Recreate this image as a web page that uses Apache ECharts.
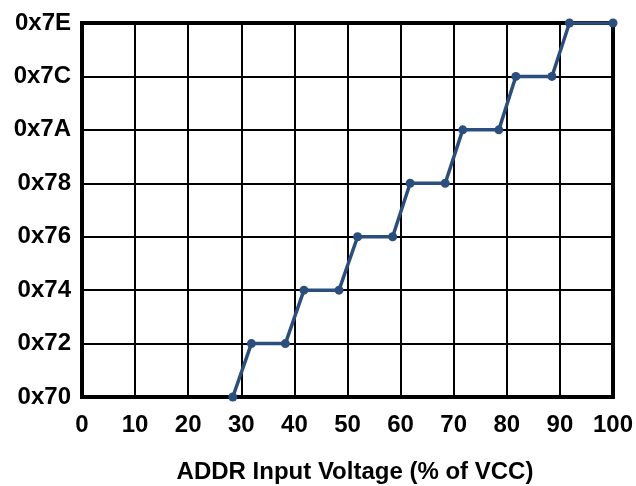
<!DOCTYPE html>
<html>
<head>
<meta charset="utf-8">
<script src="https://cdn.jsdelivr.net/npm/echarts@6/dist/echarts.min.js"></script>
<style>
  html, body { margin: 0; padding: 0; background: #fff; }
  #chart { width: 636px; height: 486px; }
</style>
</head>
<body>
<div id="chart"></div>
<script>
// ADDR input voltage (% of VCC) vs. address code
var voltage = [28.4, 31.9, 38.3, 41.8, 48.4, 51.9, 58.5, 61.8, 68.4, 71.7, 78.5, 81.7, 88.5, 91.8, 100];
var addr = [0x70, 0x72, 0x72, 0x74, 0x74, 0x76, 0x76, 0x78, 0x78, 0x7A, 0x7A, 0x7C, 0x7C, 0x7E, 0x7E];

var points = [];
for (var i = 0; i < voltage.length; i++) {
    points.push([voltage[i], addr[i]]);
}

var font = 'Liberation Sans, Arial, sans-serif';
var myChart = echarts.init(document.getElementById('chart'));
var option = {
    animation: false,
    grid: {
        left: 82, right: 23, top: 23, bottom: 89,
        outerBoundsMode: 'none',
        show: true,
        borderColor: '#000',
        borderWidth: 4
    },
    xAxis: {
        type: 'value',
        min: 0, max: 100, interval: 10,
        name: 'ADDR Input Voltage (% of VCC)',
        nameLocation: 'middle',
        nameGap: 63,
        nameTextStyle: { color: '#000', fontFamily: font, fontWeight: 'bold', fontSize: 24, padding: [0, 0, 0, 15] },
        axisLine: { show: false },
        axisTick: { show: false },
        axisLabel: { color: '#000', fontFamily: font, fontWeight: 'bold', fontSize: 24, margin: 16 },
        splitLine: { lineStyle: { color: '#000', width: 2 } }
    },
    yAxis: {
        type: 'value',
        min: 0x70, max: 0x7E, interval: 2,
        axisLine: { show: false },
        axisTick: { show: false },
        axisLabel: {
            color: '#000', fontFamily: font, fontWeight: 'bold', fontSize: 24, margin: 11,
            formatter: function (v) { return '0x' + v.toString(16).toUpperCase(); }
        },
        splitLine: { lineStyle: { color: '#000', width: 2 } }
    },
    series: [
        {
            type: 'line',
            data: points,
            symbol: 'circle',
            symbolSize: 9,
            itemStyle: { color: '#2a4f7f' },
            lineStyle: { color: '#2a4f7f', width: 3.5 }
        }
    ]
};
myChart.setOption(option);
</script>
</body>
</html>
